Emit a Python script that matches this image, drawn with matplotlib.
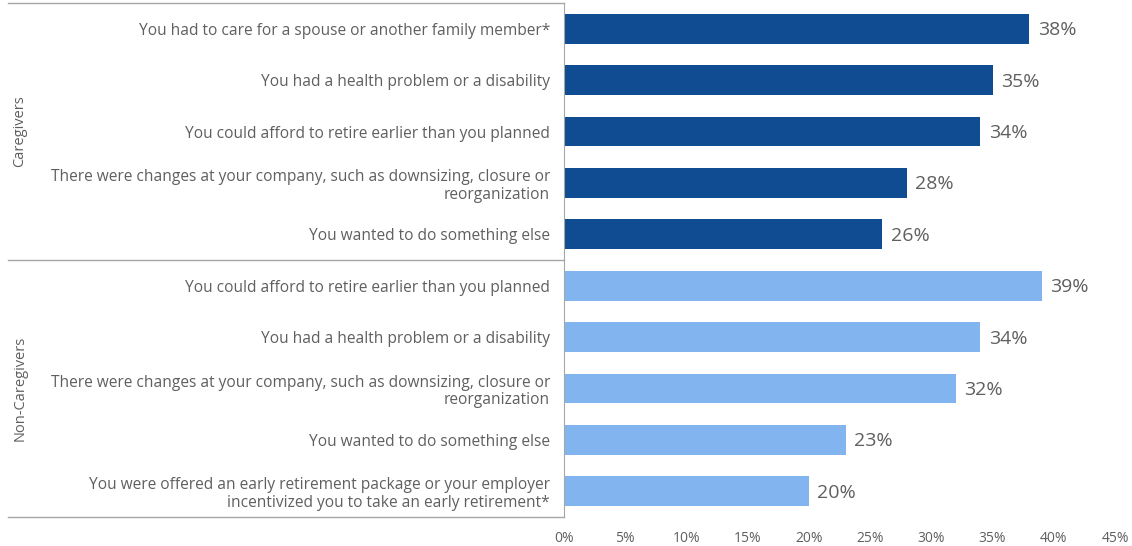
import matplotlib.pyplot as plt
import matplotlib.transforms as mtransforms

# reasons for retiring earlier than planned
caregiver_labels = [
    "You had to care for a spouse or another family member*",
    "You had a health problem or a disability",
    "You could afford to retire earlier than you planned",
    "There were changes at your company, such as downsizing, closure or\nreorganization",
    "You wanted to do something else",
]
caregiver_values = [38, 35, 34, 28, 26]

noncaregiver_labels = [
    "You could afford to retire earlier than you planned",
    "You had a health problem or a disability",
    "There were changes at your company, such as downsizing, closure or\nreorganization",
    "You wanted to do something else",
    "You were offered an early retirement package or your employer\nincentivized you to take an early retirement*",
]
noncaregiver_values = [39, 34, 32, 23, 20]

group_names = ["Caregivers", "Non-Caregivers"]
x_ticks = [0, 5, 10, 15, 20, 25, 30, 35, 40, 45]

dark = "#0f4c92"
light = "#82b5ef"
grey = "#5f5f5f"
line_col = "#a6a6a6"

plt.rcParams['font.family'] = ['Open Sans', 'DejaVu Sans']

fig = plt.figure(figsize=(11.32, 5.46), dpi=100)
ax = fig.add_axes([564 / 1132, 29 / 546, 551 / 1132, 514 / 546])

labels = caregiver_labels + noncaregiver_labels
values = caregiver_values + noncaregiver_values
colors = [dark] * len(caregiver_values) + [light] * len(noncaregiver_values)
ypos = list(range(len(values)))

ax.barh(ypos, values, height=0.58, color=colors)
for y, v in zip(ypos, values):
    ax.text(v + 0.7, y + 0.03, f"{v}%", va="center", ha="left", fontsize=14, color=grey)

ax.set_xlim(0, 45)
ax.set_ylim(len(values) - 0.5, -0.5)
ax.set_xticks(x_ticks)
ax.set_xticklabels([f"{t}%" for t in x_ticks], fontsize=10, color=grey)
ax.set_yticks(ypos)
ax.set_yticklabels(labels, fontsize=11.2, color=grey, linespacing=1.15)
ax.tick_params(axis="both", length=0)
ax.tick_params(axis="x", pad=10)
ax.tick_params(axis="y", pad=10)

for s in ["top", "right", "bottom"]:
    ax.spines[s].set_visible(False)
ax.spines["left"].set_color(line_col)

# group separator lines reaching into the label area
trans = mtransforms.blended_transform_factory(ax.transAxes, ax.transData)
x0 = (8 - 564) / 551
for yl in [-0.5, 4.5, 9.5]:
    ax.plot([x0, 0], [yl, yl], color=line_col, lw=1, transform=trans, clip_on=False)

# group names
xg = (20 - 564) / 551
ax.text(xg, 2, group_names[0], rotation=90, ha="center", va="center",
        fontsize=10.5, color=grey, transform=trans)
ax.text(xg, 7, group_names[1], rotation=90, ha="center", va="center",
        fontsize=10.5, color=grey, transform=trans)

fig.savefig("out.png", dpi=100)
